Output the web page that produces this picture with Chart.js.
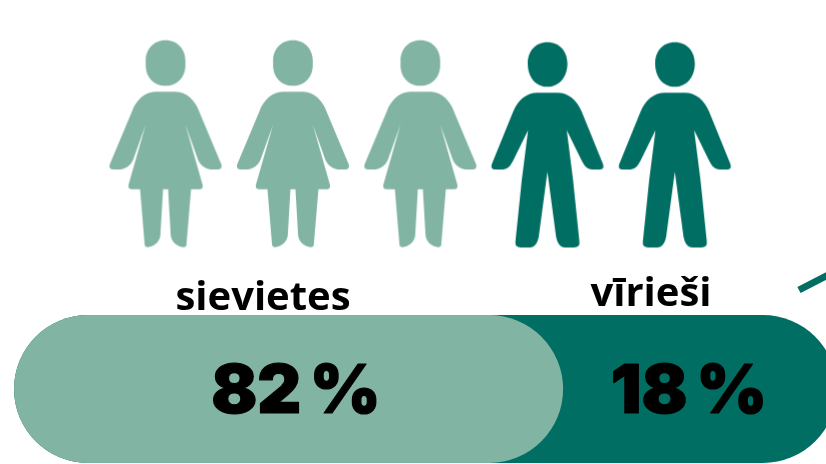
<!DOCTYPE html>
<html lang="lv">
<head>
<meta charset="utf-8">
<title>sievietes un vīrieši</title>
<script src="https://cdn.jsdelivr.net/npm/chart.js@4"></script>
<style>
  html, body { margin: 0; background: #fff; overflow: hidden; width: 826px; height: 464px; }
  canvas { position: absolute; left: 0; top: 0; }
</style>
</head>
<body>
<canvas id="iconsChart" width="840" height="287"></canvas>
<canvas id="barChart" width="840" height="464"></canvas>
<script>
var groupNames = ['sievietes', 'vīrieši'];
var sharePercent = [82, 18];
var womenIconSlots = [1, 2, 3];
var menIconSlots = [4, 5];
var iconRow = [1];
var barRow = ['dzimums'];

var LIGHT = '#82b4a3';
var DARK = '#006e63';

// silhouettes traced in 3x crop units, centred on cx / 340
var WOMAN = {
  cx: 196.5,
  d: 'M196.5 30C235 30 256 60 256 90V105C256 140 232 167 196.5 167C161 167 137 140 137 105V90C137 60 158 30 196.5 30Z' +
     'M165 185H228C258 185 285 210 297 243L364 403Q368 418 352 418H340C315 418 298 405 290 378L256 283L308 465Q309 477 298 477H273L259 645Q258 651 250 651C230 648 214 635 212 615L204 477H189L181 615C179 635 163 648 143 651Q135 651 134 645L120 477H95Q84 477 85 465L137 283L103 378C95 405 78 418 53 418H41Q25 418 29 403L96 243C108 210 135 185 165 185Z'
};
var MAN = {
  cx: 203,
  d: 'M202 36C240 36 262 65 262 100C262 140 238 170 202 170C166 170 143 140 143 100C143 65 164 36 202 36Z' +
     'M172 188H232C265 188 290 210 305 245L369 402Q374 418 358 418H335C318 416 312 405 305 392L260 300L279 450L298 635Q300 652 282 652H255C240 652 232 640 228 620L202 425L176 620C172 640 164 652 149 652H122Q104 652 106 635L125 450L144 300L99 392C92 405 86 416 69 418H46Q30 418 35 402L99 245C114 210 139 188 172 188Z'
};

function makeIcon(shape, color) {
  var c = document.createElement('canvas');
  c.width = 130;
  c.height = 230;
  var g = c.getContext('2d');
  g.translate(65, 115);
  g.scale(1 / 3, 1 / 3);
  g.translate(-shape.cx, -340);
  g.fillStyle = color;
  g.fill(new Path2D(shape.d));
  return c;
}

function iconPoints(slots) {
  return slots.map(function (s) { return { x: s, y: iconRow[0] }; });
}

new Chart(document.getElementById('iconsChart'), {
  type: 'scatter',
  data: {
    datasets: [
      { label: groupNames[0], data: iconPoints(womenIconSlots), pointStyle: makeIcon(WOMAN, LIGHT) },
      { label: groupNames[1], data: iconPoints(menIconSlots), pointStyle: makeIcon(MAN, DARK) }
    ]
  },
  options: {
    responsive: false,
    animation: false,
    events: [],
    layout: { autoPadding: false },
    plugins: { legend: { display: false }, tooltip: { enabled: false } },
    scales: {
      x: { type: 'linear', display: false, min: -0.299, max: 6.294 },
      y: { type: 'linear', display: false, min: 0, max: 2 }
    }
  }
});

var pillText = {
  id: 'pillText',
  afterDraw: function (chart) {
    var ctx = chart.ctx;
    ctx.save();

    // short stroke in the top right corner of the reference
    ctx.strokeStyle = DARK;
    ctx.lineWidth = 7;
    ctx.beginPath();
    ctx.moveTo(799, 290);
    ctx.lineTo(830, 274);
    ctx.stroke();

    ctx.fillStyle = '#000';
    ctx.textAlign = 'center';
    ctx.textBaseline = 'alphabetic';
    ctx.font = 'bold 40px "Open Sans"';
    ctx.fillText(groupNames[0], 263, 310);
    ctx.fillText(groupNames[1], 651, 306);

    // the reference face is heavier than Inter Black, so add a thin outline
    ctx.font = '900 68px Inter';
    ctx.wordSpacing = '-5px';
    ctx.strokeStyle = '#000';
    ctx.lineWidth = 1.2;
    ctx.lineJoin = 'round';
    [296, 689].forEach(function (x, i) {
      var text = sharePercent[i] + ' %';
      ctx.fillText(text, x, 413);
      ctx.strokeText(text, x, 413);
    });
    ctx.restore();
  }
};

new Chart(document.getElementById('barChart'), {
  type: 'bar',
  data: {
    labels: barRow,
    datasets: [
      {
        label: groupNames[0],
        data: [sharePercent[0]],
        xAxisID: 'xShare',
        backgroundColor: LIGHT,
        order: 1
      },
      {
        label: groupNames[1],
        data: [sharePercent[0] + sharePercent[1]],
        xAxisID: 'xTotal',
        backgroundColor: DARK,
        order: 2
      }
    ]
  },
  options: {
    indexAxis: 'y',
    responsive: false,
    animation: false,
    events: [],
    layout: { padding: { left: 14, right: 3, top: 315, bottom: 1 } },
    datasets: {
      bar: {
        grouped: false,
        barPercentage: 1,
        categoryPercentage: 1,
        borderRadius: 74,
        borderSkipped: false,
        inflateAmount: 0
      }
    },
    plugins: { legend: { display: false }, tooltip: { enabled: false } },
    scales: {
      y: { type: 'category', display: false },
      // the pill in the reference is not to scale: 82 reaches two thirds of its length
      xShare: { type: 'linear', axis: 'x', display: false, min: 0, max: 122.9 },
      xTotal: { type: 'linear', axis: 'x', display: false, min: 0, max: 100 }
    }
  },
  plugins: [pillText]
});
</script>
</body>
</html>
